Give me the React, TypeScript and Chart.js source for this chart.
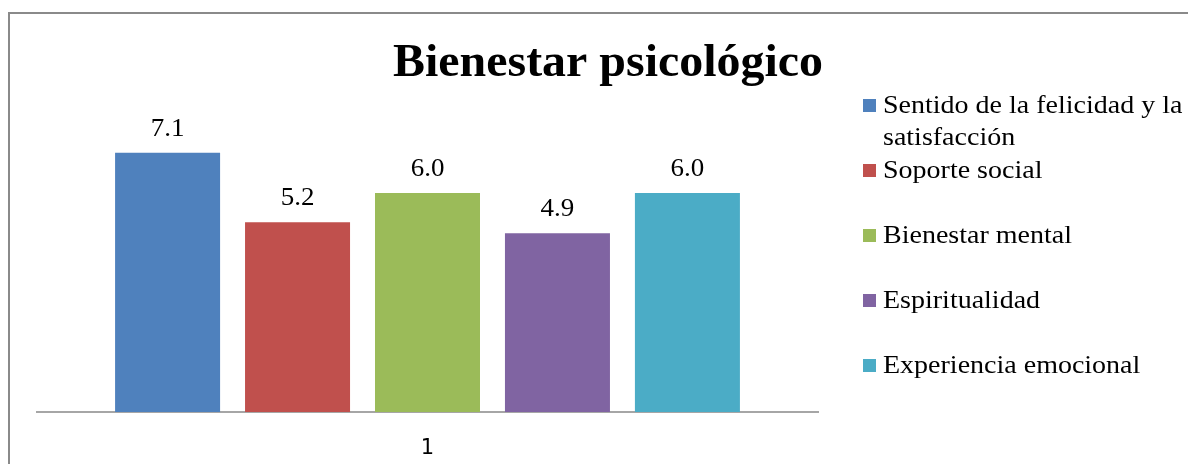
import React, { useEffect, useRef } from "react";
import { Chart, registerables } from "chart.js";

Chart.register(...registerables);

const TITLE = "Bienestar psicológico";
const CATEGORIES = ["1"];
const SERIES_NAMES = [
  "Sentido de la felicidad y la satisfacción",
  "Soporte social",
  "Bienestar mental",
  "Espiritualidad",
  "Experiencia emocional",
];
const LEGEND_LINES = [
  ["Sentido de la felicidad y la", "satisfacción"],
  ["Soporte social"],
  ["Bienestar mental"],
  ["Espiritualidad"],
  ["Experiencia emocional"],
];
const SERIES_VALUES = [7.1, 5.2, 6.0, 4.9, 6.0];
const SERIES_COLORS = ["#4F81BD", "#C0504D", "#9BBB59", "#8064A2", "#4BACC6"];

const SERIF = "'Liberation Serif', 'Times New Roman', serif";

function stretchedText(ctx: any, text: string, x: number, y: number, sx: number) {
  ctx.save();
  ctx.translate(x, y);
  ctx.scale(sx, 1);
  ctx.fillText(text, 0, 0);
  ctx.restore();
}

const overlayPlugin = {
  id: "overlay",
  afterDatasetsDraw(chart: any) {
    const ctx = chart.ctx;
    ctx.save();
    ctx.fillStyle = "#000";
    ctx.font = `25px ${SERIF}`;
    ctx.textAlign = "center";
    ctx.textBaseline = "alphabetic";
    chart.data.datasets.forEach((ds: any, i: number) => {
      const meta = chart.getDatasetMeta(i);
      meta.data.forEach((bar: any, j: number) => {
        const v = ds.data[j] as number;
        stretchedText(ctx, v.toFixed(1), bar.x, bar.y - 17, 1.08);
      });
    });
    ctx.restore();
  },
  afterDraw(chart: any) {
    const ctx = chart.ctx;
    ctx.save();
    // title
    ctx.fillStyle = "#000";
    ctx.font = `bold 47px ${SERIF}`;
    ctx.textAlign = "center";
    ctx.textBaseline = "alphabetic";
    stretchedText(ctx, TITLE, 598, 62, 1.02);
    // legend
    ctx.font = `25px ${SERIF}`;
    ctx.textAlign = "left";
    const startY = 99;
    const step = 65;
    const lineH = 32;
    LEGEND_LINES.forEach((lines, i) => {
      const base = startY + i * step;
      ctx.fillStyle = SERIES_COLORS[i];
      ctx.fillRect(853, base - 14, 13, 13);
      ctx.fillStyle = "#000";
      lines.forEach((t, k) => stretchedText(ctx, t, 873, base + k * lineH, 1.12));
    });
    ctx.restore();
  },
};

export default function App() {
  const ref = useRef<HTMLCanvasElement | null>(null);
  useEffect(() => {
    document.body.style.overflow = "hidden";
    const canvas = ref.current;
    if (!canvas) return;
    const chart = new Chart(canvas, {
      type: "bar",
      data: {
        labels: CATEGORIES,
        datasets: SERIES_NAMES.map((name, i) => ({
          label: name,
          data: [SERIES_VALUES[i]],
          backgroundColor: SERIES_COLORS[i],
          borderWidth: 0,
          categoryPercentage: 0.832,
          barPercentage: 0.808,
        })),
      },
      options: {
        responsive: false,
        animation: false,
        devicePixelRatio: 1,
        layout: { padding: { left: 27, right: 370, top: 106, bottom: 0 } },
        plugins: {
          legend: { display: false },
          title: { display: false },
          tooltip: { enabled: false },
        },
        scales: {
          x: {
            grid: { display: false, drawTicks: false },
            border: { display: true, color: "#a6a6a6", width: 2 },
            ticks: {
              color: "#000",
              padding: 24,
              font: { family: "'DejaVu Sans', sans-serif", size: 21 },
            },
            afterFit: (scale: any) => {
              scale.height = 52;
            },
          },
          y: {
            display: false,
            min: 0,
            max: 8,
          },
        },
      },
      plugins: [overlayPlugin],
    });
    return () => chart.destroy();
  }, []);

  return (
    <div
      style={{
        marginTop: 4,
        borderLeft: "2px solid #8a8a8a",
        borderTop: "2px solid #8a8a8a",
        width: 1200,
        height: 452,
        boxSizing: "border-box",
        background: "#fff",
      }}
    >
      <canvas ref={ref} width={1178} height={450} style={{ display: "block" }} />
    </div>
  );
}
